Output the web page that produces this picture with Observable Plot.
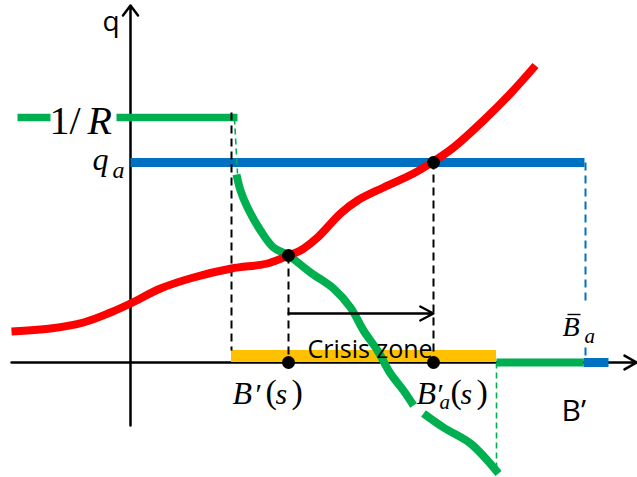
<!DOCTYPE html>
<html><head><meta charset="utf-8">
<script src="https://cdn.jsdelivr.net/npm/d3@7"></script>
<script src="https://cdn.jsdelivr.net/npm/@observablehq/plot@0.6"></script>
<style>html,body{margin:0;padding:0;background:#fff;} svg{display:block;}</style>
</head><body><div id="chart"></div>
<script>
// ---- data (B' on x, q on y; origin at axis crossing) ----
const redB   = [-119,-80,-47,-20,0,30,63,101,137,158,170,187,210,227,253,283,303,323,353,380,405];
const redQ   = [31,34,40,50,59,74,85,94,99,107,112,125,149,162,175,189,201,215,242,269,297];
const greenB = [106,110,117,130,143,158,180,203,220,233,247,260,273,283,288,293,313,340,357,368];
const greenQ = [188,172,155,132,115,107,90,74,55,32,12,-11,-28,-43,NaN,-51,-65,-81,-98,-111];

const oneOverR = 245;      // 1/R level
const qA = 200;            // q_a level
const Bs = 158, qs = 107;  // B'(s) intersection
const BaS = 303;           // B'_a(s)
const zoneStart = 101, zoneEnd = 366; // crisis zone
const BbarA = 455;         // \bar B_a
const xAxis = [-119, 506], yAxis = [-63, 357];

const greenFlat = [[-113,-80],[-14,107]];   // 1/R segments
const blueFlat  = [0, 454];
const greenAxis = [366, 453];
const blueAxis  = [453, 478];
const arrowQ = 49;

const sansLabels = [
  {t:"q", x:-28, y:332, s:28},
  {t:"B\u2019", x:431, y:-58, s:30},
  {t:"Crisis zone", x:177, y:5, s:25}
];
const serifItalic = [
  {t:"B", x:102, y:-41, s:32}, {t:"s", x:145, y:-41, s:30},
  {t:"B", x:286, y:-41, s:32}, {t:"s", x:330, y:-41, s:30}, {t:"a", x:309, y:-46, s:21},
  {t:"R", x:-43, y:229, s:40},
  {t:"q", x:-38, y:193, s:32}, {t:"a", x:-18, y:185, s:24},
  {t:"B", x:432, y:27, s:28}, {t:"a", x:454, y:20, s:21}
];
const serifUpright = [
  {t:"\u2032", x:125, y:-41, s:30}, {t:"(", x:135, y:-40, s:34}, {t:")", x:161, y:-40, s:34},
  {t:"\u2032", x:307, y:-41, s:30}, {t:"(", x:320, y:-40, s:34}, {t:")", x:346, y:-40, s:34},
  {t:"1", x:-81, y:229, s:40}, {t:"/", x:-61, y:229, s:40}
];
const macron = [{x1:437, x2:450, y1:48, y2:48}];

// ---- build ----
const red = redB.map((b,i)=>({b, q:redQ[i]}));
const green = greenB.map((b,i)=>({b, q:greenQ[i]}));
const seg = (x1,y1,x2,y2)=>({x1,y1,x2,y2});
const L = {x1:"x1",y1:"y1",x2:"x2",y2:"y2"};
const SERIF = "'Liberation Serif', 'DejaVu Serif', serif";
const SANS = "'Open Sans', 'Liberation Sans', sans-serif";

const chart = Plot.plot({
  width: 637, height: 477, margin: 0,
  x: {domain: [-130, 507], axis: null},
  y: {domain: [-115, 362], axis: null},
  marks: [
    Plot.arrow([seg(0,yAxis[0],0,yAxis[1])], {...L, stroke:"black", strokeWidth:2.5, headLength:7.5, headAngle:74}),
    Plot.arrow([seg(xAxis[0],0,xAxis[1],0)], {...L, stroke:"black", strokeWidth:2.5, headLength:8.3, headAngle:60}),
    Plot.rect([{x1:zoneStart,x2:zoneEnd,y1:0,y2:12}], {x1:"x1",x2:"x2",y1:"y1",y2:"y2", fill:"#FFC000"}),
    Plot.link([seg(greenAxis[0],0,greenAxis[1],0)], {...L, stroke:"#00B050", strokeWidth:8}),
    Plot.link([seg(blueAxis[0],0,blueAxis[1],0)], {...L, stroke:"#0070C0", strokeWidth:9}),
    Plot.link(greenFlat.map(([a,b])=>seg(a,oneOverR,b,oneOverR)), {...L, stroke:"#00B050", strokeWidth:7.5}),
    Plot.link([seg(blueFlat[0],qA,blueFlat[1],qA)], {...L, stroke:"#0070C0", strokeWidth:9}),
    // dashed guides
    Plot.link([seg(zoneStart,oneOverR+5,zoneStart,12), seg(Bs,qs,Bs,0), seg(BaS,qA+1,BaS,0)],
      {...L, stroke:"black", strokeWidth:2, strokeDasharray:"8,5"}),
    Plot.link([seg(BbarA,qA,BbarA,57), seg(BbarA,15,BbarA,0)],
      {...L, stroke:"#0070C0", strokeWidth:2, strokeDasharray:"8,5"}),
    Plot.link([seg(104,oneOverR-1,107,189), seg(zoneEnd,0,zoneEnd,-111)],
      {...L, stroke:"#00B050", strokeWidth:1.6, strokeDasharray:"6,4"}),
    // curves
    Plot.line(green, {x:"b", y:"q", stroke:"#00B050", strokeWidth:8, curve:"catmull-rom", strokeLinecap:"butt"}),
    Plot.line(red, {x:"b", y:"q", stroke:"#FF0000", strokeWidth:8, curve:"catmull-rom", strokeLinecap:"butt"}),
    Plot.arrow([seg(Bs,arrowQ,BaS,arrowQ)], {...L, stroke:"black", strokeWidth:2.3, headLength:9.8, headAngle:56}),
    Plot.dot([{b:Bs,q:qs},{b:BaS,q:qA},{b:Bs,q:0},{b:BaS,q:0}], {x:"b", y:"q", r:6.5, fill:"black"}),
    // labels
    Plot.text(sansLabels, {x:"x", y:"y", text:"t", fontSize:d=>d.s, fontFamily:SANS, textAnchor:"start", lineAnchor:"bottom", fill:"black"}),
    Plot.text(serifItalic, {x:"x", y:"y", text:"t", fontSize:d=>d.s, fontFamily:SERIF, fontStyle:"italic", textAnchor:"start", lineAnchor:"bottom", fill:"black"}),
    Plot.text(serifUpright, {x:"x", y:"y", text:"t", fontSize:d=>d.s, fontFamily:SERIF, textAnchor:"start", lineAnchor:"bottom", fill:"black"}),
    Plot.link(macron, {...L, stroke:"black", strokeWidth:1.4})
  ]
});
document.getElementById("chart").appendChild(chart);
</script></body></html>
